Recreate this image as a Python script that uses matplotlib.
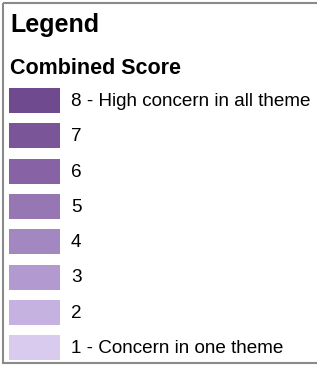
"""
Legend panel: combined concern score
"""
import matplotlib
matplotlib.use("Agg")
import matplotlib.pyplot as plt
from matplotlib.patches import Rectangle

# legend content
title = "Legend"
subtitle = "Combined Score"
scores = [8, 7, 6, 5, 4, 3, 2, 1]
labels = ["8 - High concern in all theme", "7", "6", "5", "4", "3", "2",
          "1 - Concern in one theme"]
colors = ["#6f4a8e", "#7a5598", "#8762a5", "#9676b3", "#a387c1",
          "#b29ad0", "#c6b2e0", "#d8cbee"]

plt.rcParams["font.family"] = ["Liberation Sans", "DejaVu Sans"]

W, H = 317, 366
fig = plt.figure(figsize=(W / 100, H / 100), dpi=100)
ax = fig.add_axes([0, 0, 1, 1])
ax.set_xlim(0, W)
ax.set_ylim(H, 0)
ax.axis("off")

# outer frame (right side runs off the image)
ax.add_patch(Rectangle((2.5, 2.5), W + 10, 360, fill=False,
                       edgecolor="#8a8a8a", linewidth=1.5))

ax.text(10, 32, title, fontsize=18, fontweight="bold", va="baseline")
ax.text(10, 74, subtitle, fontsize=15.5, fontweight="bold", va="baseline")

# swatches
step = 35.3
top = 88
ys = [top + i * step + 12.5 for i in range(len(scores))]
ax.barh(ys, 51, left=9, height=25, color=colors)
for y, lab in zip(ys, labels):
    ax.text(71, y + 1, lab, fontsize=13.6, va="center")

fig.savefig("out.png", dpi=100)
